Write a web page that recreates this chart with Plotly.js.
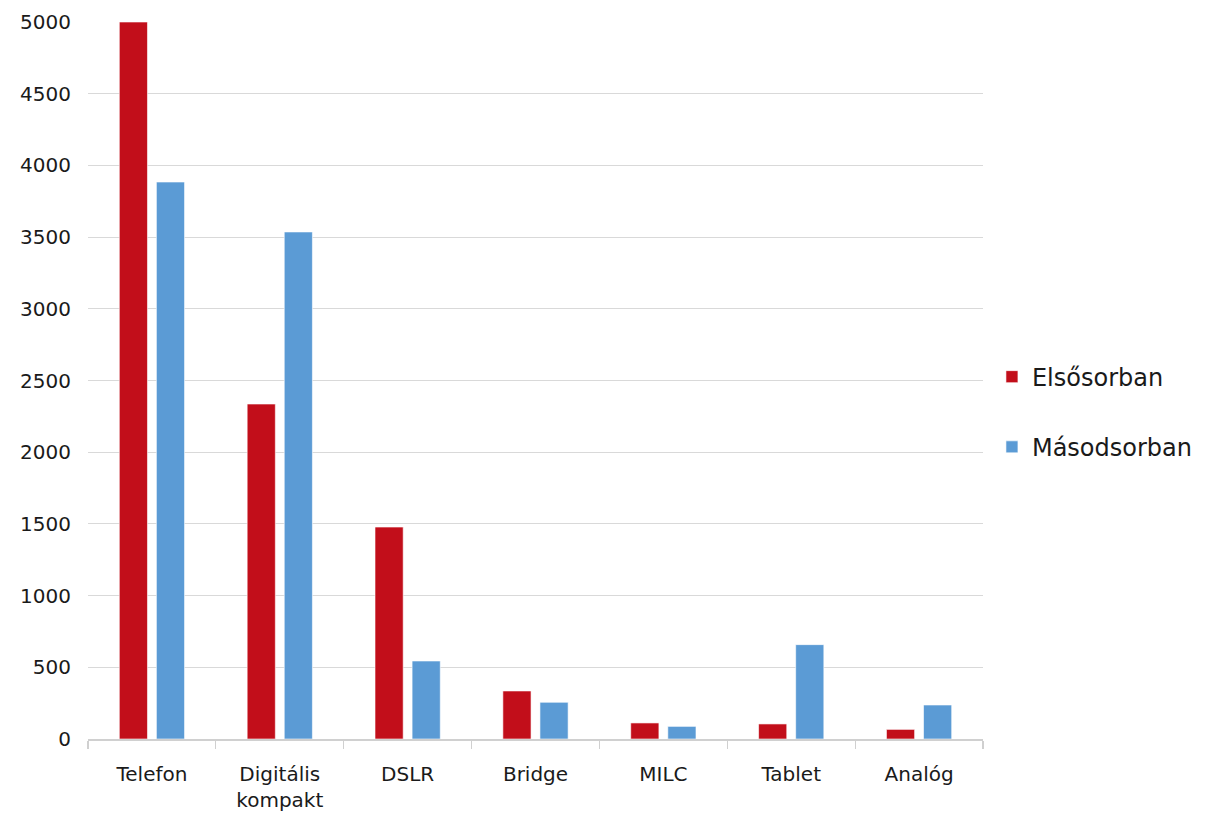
<!DOCTYPE html>
<html>
<head>
<meta charset="utf-8">
<script src="https://cdn.plot.ly/plotly-3.0.1.min.js"></script>
<style>html,body{margin:0;padding:0;background:#fff;}#chart{width:1220px;height:813px;}</style>
</head>
<body>
<div id="chart"></div>
<script>
const categories = ["Telefon", "Digitális<br>kompakt", "DSLR", "Bridge", "MILC", "Tablet", "Analóg"];
const seriesNames = ["Elsősorban", "Másodsorban"];
const elsosorban = [5000, 2336, 1478, 335, 112, 105, 67];
const masodsorban = [3884, 3536, 544, 256, 88, 658, 237];
const yTicks = [0, 500, 1000, 1500, 2000, 2500, 3000, 3500, 4000, 4500, 5000];

const fontFam = "DejaVu Sans, sans-serif";
const traces = [
  {type: "bar", name: seriesNames[0], x: categories, y: elsosorban, legendgroup: "a",
   marker: {color: "#c20e1a", line: {color: "#ffffff", width: 0.6}}},
  {type: "bar", name: seriesNames[1], x: categories, y: masodsorban, legendgroup: "b",
   marker: {color: "#5b9bd5", line: {color: "#ffffff", width: 0.6}}}
];
const layout = {
  width: 1220, height: 813,
  margin: {l: 88, r: 237, t: 22, b: 74},
  paper_bgcolor: "#ffffff", plot_bgcolor: "#ffffff",
  barmode: "group", bargap: 0.42, bargroupgap: 0.24,
  font: {family: fontFam, color: "#1a1a1a", size: 20},
  xaxis: {
    type: "category", showgrid: false, showline: true, linecolor: "#d0d0d0", linewidth: 1.5,
    ticks: "outside", tickson: "boundaries", ticklen: 8, tickcolor: "#d0d0d0", tickwidth: 1.2,
    tickfont: {family: fontFam, size: 20, color: "#1a1a1a"}, ticklabelstandoff: 16,
    fixedrange: true
  },
  yaxis: {
    range: [0, 5000], tickvals: yTicks, ticktext: yTicks.map(String),
    showgrid: true, gridcolor: "#d9d9d9", gridwidth: 1, zeroline: false, showline: false,
    ticks: "", tickfont: {family: fontFam, size: 20, color: "#1a1a1a"}, ticklabelstandoff: 16,
    fixedrange: true
  },
  showlegend: true,
  legend: {x: 1.01, xanchor: "left", y: 0.456, yanchor: "middle", traceorder: "grouped",
    tracegroupgap: 36, font: {family: fontFam, size: 24, color: "#1a1a1a"},
    itemwidth: 30, bgcolor: "rgba(0,0,0,0)"}
};
Plotly.newPlot("chart", traces, layout, {displayModeBar: false, staticPlot: true});
</script>
</body>
</html>
